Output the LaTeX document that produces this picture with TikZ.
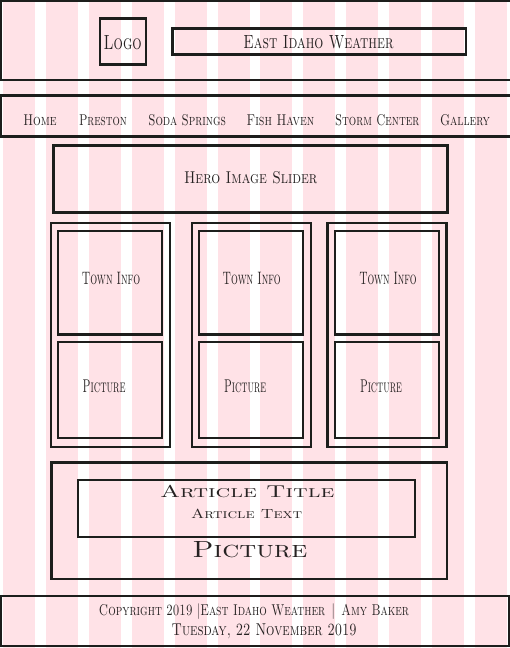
\documentclass[tikz,border=0pt]{standalone}
\usepackage{graphicx}
\definecolor{stripe}{RGB}{255,226,231}
\definecolor{ink}{RGB}{28,30,28}
\definecolor{txt}{RGB}{38,34,34}
\newcommand{\fit}[3]{\resizebox{#1pt}{#2pt}{\scshape\smash{#3}\vphantom{H}}}
\tikzset{
  box/.style={draw=ink, line width=2.5pt},
  lbl/.style={anchor=base, inner sep=0pt, text=txt},
}
\begin{document}
\begin{tikzpicture}[x=1pt,y=-1pt]
\useasboundingbox (0,0) rectangle (510,648);
\clip (0,0) rectangle (510,648);
\fill[white] (0,0) rectangle (510,648);
% grid stripes
\foreach \i in {0,...,11}
  \fill[stripe] ({3+42.9*\i},0) rectangle ({35+42.9*\i},648);

% header
\draw[box] (1,1) rectangle (516,80);
\draw[box] (100,18.5) rectangle (146,64.5);
\draw[box] (172.5,28.5) rectangle (466,54.5);
\node[lbl] (logo) at (122.7,49) {\fit{38}{14}{Logo}};
\node[lbl] (site) at (318.5,48.3) {\fit{150}{13}{East Idaho Weather}};

% navigation
\draw[box] (1,95.5) rectangle (516,136.5);
\node[lbl] (n1) at (40,125) {\fit{33.4}{10.7}{Home}};
\node[lbl] (n2) at (103,125) {\fit{48}{10.7}{Preston}};
\node[lbl] (n3) at (187.2,125) {\fit{77.7}{10.7}{Soda Springs}};
\node[lbl] (n4) at (280.5,125) {\fit{67.6}{10.7}{Fish Haven}};
\node[lbl] (n5) at (377.2,125) {\fit{84.3}{10.7}{Storm Center}};
\node[lbl] (n6) at (465,125) {\fit{50}{10.7}{Gallery}};

% hero
\draw[box] (53.5,145.5) rectangle (447.5,212.5);
\node[lbl] (hero) at (250.7,183.3) {\fit{133.3}{11.7}{Hero Image Slider}};

% columns
\foreach \xo/\ox in {51/170, 192/311, 327.5/446.5} {
  \draw[box] (\xo,223) rectangle (\ox,447);
}
\draw[box] (58,231) rectangle (162,334.5);
\draw[box] (58,342) rectangle (162,438);
\draw[box] (199,231) rectangle (303,334.5);
\draw[box] (199,342) rectangle (303,438);
\draw[box] (335,231) rectangle (439,334.5);
\draw[box] (335,342) rectangle (439,438);

\node[lbl] (t1) at (111,284) {\fit{58.3}{12.3}{Town Info}};
\node[lbl] (t2) at (251.7,284) {\fit{58}{12.3}{Town Info}};
\node[lbl] (t3) at (388,284) {\fit{57.3}{12.3}{Town Info}};
\node[lbl] (p1) at (104.2,392.7) {\fit{43}{12.6}{Picture}};
\node[lbl] (p2) at (245.2,392.7) {\fit{42}{12.6}{Picture}};
\node[lbl] (p3) at (381,392.7) {\fit{42}{12.6}{Picture}};

% article
\draw[box] (51.5,462.5) rectangle (447,579);
\draw[box] (78,480) rectangle (415,537);
\node[lbl] (at) at (247.2,497.7) {\fit{174.3}{11.7}{Article Title}};
\node[lbl] (ax) at (246.7,518) {\fit{111.3}{9}{Article Text}};
\node[lbl] (ap) at (249.8,557.7) {\fit{115}{16}{Picture}};

% footer
\draw[box] (1,596) rectangle (509,646);
\node[lbl] (c1) at (254,615) {\fit{310}{10.7}{Copyright 2019 |East Idaho Weather \,|\, Amy Baker}};
\node[lbl] (c2) at (264.2,635) {\fit{185}{11.7}{Tuesday, 22 November 2019}};
\end{tikzpicture}
\end{document}
